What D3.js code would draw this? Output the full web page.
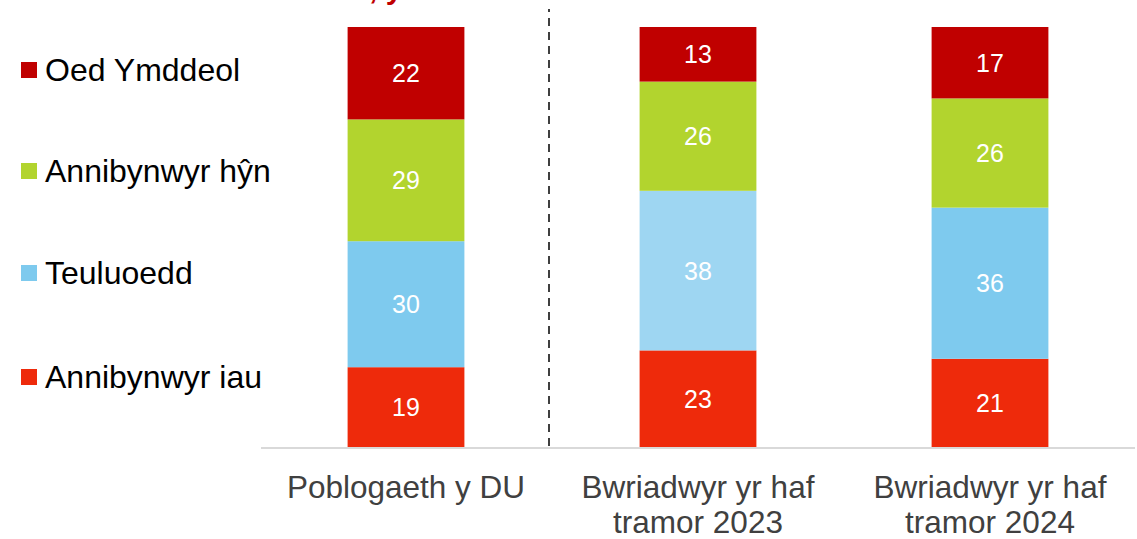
<!DOCTYPE html>
<html>
<head>
<meta charset="utf-8">
<script src="https://cdn.jsdelivr.net/npm/d3@7"></script>
<style>
  body { margin: 0; background: #fff; }
  svg { display: block; font-family: Arial, "Liberation Sans", sans-serif; }
</style>
</head>
<body>
<svg></svg>
<script>
// data
let categories = ['Poblogaeth y DU', 'Bwriadwyr yr haf tramor 2023', 'Bwriadwyr yr haf tramor 2024']
let categoryLines = [['Poblogaeth y DU'], ['Bwriadwyr yr haf', 'tramor 2023'], ['Bwriadwyr yr haf', 'tramor 2024']]
let seriesNames = ['Annibynwyr iau', 'Teuluoedd', 'Annibynwyr hŷn', 'Oed Ymddeol']
let annibynwyrIau = [19, 23, 21]
let teuluoedd = [30, 38, 36]
let annibynwyrHyn = [29, 26, 26]
let oedYmddeol = [22, 13, 17]

let width = 1137
let height = 539

let colors = {
    'Annibynwyr iau': '#EE2A0B',
    'Teuluoedd': '#7ECAEE',
    'Annibynwyr hŷn': '#B2D42E',
    'Oed Ymddeol': '#C00000'
}
// the 2023 families block is drawn lighter in the original
let highlight = { series: 'Teuluoedd', category: 1, color: '#9ED6F2' }

let svg = d3.select('svg')
    .attr('width', width)
    .attr('height', height)

let table = categories.map((c, i) => ({
    category: c,
    'Annibynwyr iau': annibynwyrIau[i],
    'Teuluoedd': teuluoedd[i],
    'Annibynwyr hŷn': annibynwyrHyn[i],
    'Oed Ymddeol': oedYmddeol[i]
}))

let stacked = d3.stack().keys(seriesNames)(table)

let xScale = d3.scaleBand()
    .domain(categories)
    .range([260, 1136])
    .paddingInner(0.6)
    .paddingOuter(0.3)

let yScale = d3.scaleLinear()
    .domain([0, 100])
    .range([447, 27])

// title, cropped at the top edge in the original
svg.append('text')
    .attr('x', 244)
    .attr('y', -1)
    .attr('fill', '#C00000')
    .attr('font-weight', 'bold')
    .attr('font-size', 30)
    .text('Cam oes, yn ôl')

// bars
let layers = svg.append('g')
    .selectAll('g')
    .data(stacked)
    .enter()
    .append('g')

layers.selectAll('rect')
    .data(d => d.map((v, i) => ({ key: d.key, i: i, v: v })))
    .enter()
    .append('rect')
    .attr('x', d => xScale(categories[d.i]))
    .attr('width', xScale.bandwidth())
    .attr('y', d => yScale(d.v[1]))
    .attr('height', d => yScale(d.v[0]) - yScale(d.v[1]))
    .attr('fill', d => (d.key === highlight.series && d.i === highlight.category) ? highlight.color : colors[d.key])

layers.selectAll('text')
    .data(d => d.map((v, i) => ({ key: d.key, i: i, v: v })))
    .enter()
    .append('text')
    .attr('x', d => xScale(categories[d.i]) + xScale.bandwidth() / 2)
    .attr('y', d => (yScale(d.v[0]) + yScale(d.v[1])) / 2 + 9)
    .attr('text-anchor', 'middle')
    .attr('fill', '#fff')
    .attr('font-size', 25)
    .text(d => d.v[1] - d.v[0])

// baseline
svg.append('line')
    .attr('x1', 261)
    .attr('x2', 1135)
    .attr('y1', yScale(0) + 1)
    .attr('y2', yScale(0) + 1)
    .attr('stroke', '#D9D9D9')
    .attr('stroke-width', 2)

// divider between UK population and holiday-makers
let dividerX = (xScale(categories[0]) + xScale.bandwidth() + xScale(categories[1])) / 2 - 3
svg.append('line')
    .attr('x1', dividerX)
    .attr('x2', dividerX)
    .attr('y1', 9)
    .attr('y2', yScale(0))
    .attr('stroke', '#000')
    .attr('stroke-width', 1.5)
    .attr('stroke-dasharray', '8,6')
    .attr('stroke-dashoffset', 5)

// category labels
let catLabels = svg.append('g')
    .selectAll('text')
    .data(categories)
    .enter()
    .append('text')
    .attr('x', d => xScale(d) + xScale.bandwidth() / 2)
    .attr('y', 498)
    .attr('text-anchor', 'middle')
    .attr('fill', '#404040')
    .attr('font-size', 31.5)

catLabels.selectAll('tspan')
    .data((d, i) => categoryLines[i])
    .enter()
    .append('tspan')
    .attr('x', function () { return d3.select(this.parentNode).attr('x') })
    .attr('dy', (d, i) => i === 0 ? 0 : 35)
    .text(d => d)

// legend
let legendY = [70, 171, 273, 377]
let legend = svg.append('g')
    .selectAll('g')
    .data(seriesNames.slice().reverse())
    .enter()
    .append('g')
    .attr('transform', (d, i) => `translate(0, ${legendY[i]})`)

legend.append('rect')
    .attr('x', 21)
    .attr('y', -8)
    .attr('width', 16)
    .attr('height', 16)
    .attr('fill', d => colors[d])

legend.append('text')
    .attr('x', 45)
    .attr('y', 11)
    .attr('font-size', 32)
    .attr('fill', '#000')
    .text(d => d)
</script>
</body>
</html>
